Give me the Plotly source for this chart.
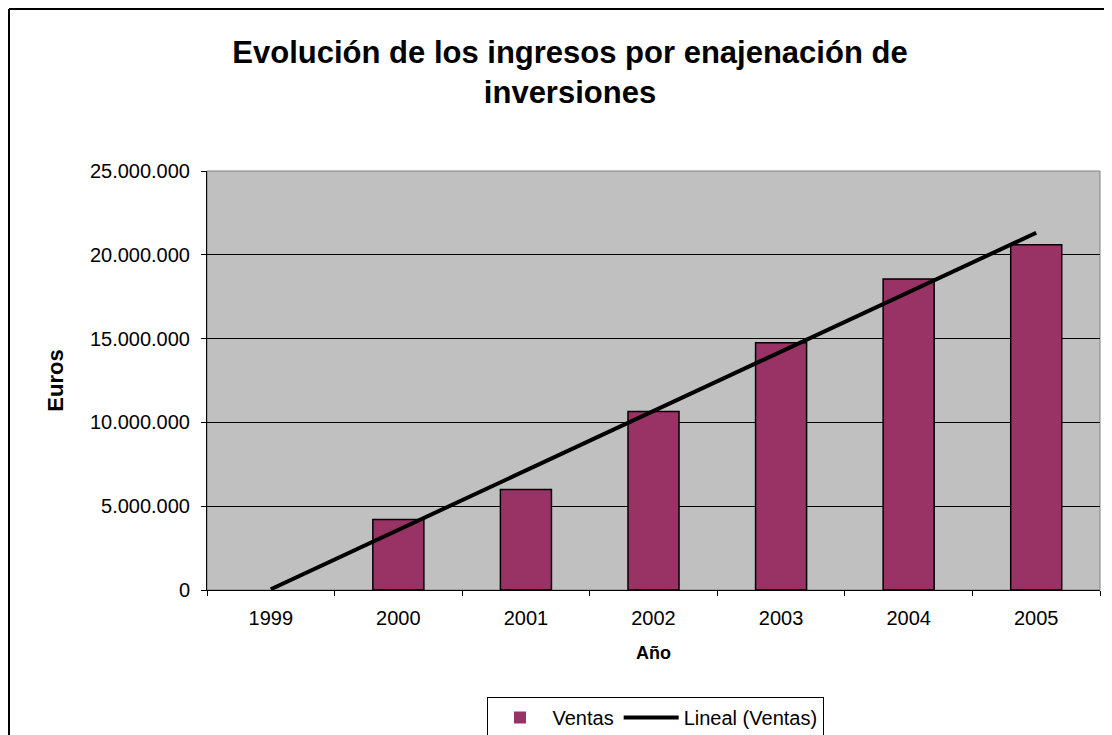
import numpy as np
import plotly.graph_objects as go

years = ["1999", "2000", "2001", "2002", "2003", "2004", "2005"]
ventas = [0, 4200000, 6000000, 10650000, 14750000, 18550000, 20600000]
y_ticks = [0, 5000000, 10000000, 15000000, 20000000, 25000000]
y_tick_labels = ["0", "5.000.000", "10.000.000", "15.000.000", "20.000.000", "25.000.000"]

# linear trendline (Excel "Lineal") computed from the data
xi = np.arange(len(years))
slope, intercept = np.polyfit(xi, ventas, 1)
trend = [slope * i + intercept for i in xi]

FONT = "Liberation Sans, Arial, sans-serif"

# page has an 8px body margin; work in figure coordinates
OFF = 8
W, H = 1112 - OFF, 735 - OFF
L = 207 - OFF
T = 171 - OFF
R = W - (1100 - OFF)
B = H - (590 - OFF)
pw = W - L - R
ph = H - T - B

fig = go.Figure()
fig.add_trace(go.Bar(
    x=years, y=ventas, name="Ventas",
    marker=dict(color="#993366",
                line=dict(color="black", width=[0 if v == 0 else 1.5 for v in ventas])),
))
fig.add_trace(go.Scatter(
    x=years, y=trend, name="Lineal (Ventas)", mode="lines",
    line=dict(color="black", width=4),
))

# outer frame: left and top edges, 1px inside the figure
fx = (1 - L) / pw
fy = (H - B - 1) / ph

fig.update_layout(
    width=W, height=H,
    margin=dict(l=L, r=R, t=T, b=B),
    paper_bgcolor="white",
    plot_bgcolor="#C0C0C0",
    bargap=0.6,
    font=dict(family=FONT, color="black", size=20),
    title=dict(
        text="<b>Evolución de los ingresos por enajenación de<br>inversiones</b>",
        xref="container", x=(570 - OFF) / W, xanchor="center",
        yref="container", y=1 - (63 - OFF) / H, yanchor="middle",
        font=dict(size=31, family=FONT, color="black"),
    ),
    xaxis=dict(
        type="category",
        showline=True, linecolor="black", linewidth=1,
        ticks="outside", tickson="boundaries", ticklen=5, tickcolor="black",
        showgrid=False,
        tickfont=dict(size=20),
        ticklabelstandoff=10,
        title=dict(text="<b>Año</b>", font=dict(size=18), standoff=18),
    ),
    yaxis=dict(
        range=[0, 25000000],
        tickvals=y_ticks, ticktext=y_tick_labels,
        showline=True, linecolor="black", linewidth=1,
        ticks="outside", ticklen=5, tickcolor="black",
        showgrid=True, gridcolor="black", gridwidth=1,
        zeroline=False,
        tickfont=dict(size=20),
        ticklabelstandoff=7,
        title=dict(text="<b>Euros</b>", font=dict(size=22), standoff=20),
    ),
    legend=dict(
        orientation="h",
        xref="container", x=(655 - OFF) / W, xanchor="center",
        yref="container", y=1 - (697 - OFF) / H, yanchor="top",
        bordercolor="black", borderwidth=1, bgcolor="white",
        font=dict(size=20), tracegroupgap=0, itemwidth=55,
    ),
    showlegend=True,
    shapes=[
        dict(type="rect", xref="paper", yref="paper", x0=0, x1=1, y0=0, y1=1,
             line=dict(color="#808080", width=1), layer="below"),
        dict(type="line", xref="paper", yref="paper",
             x0=fx, x1=fx, y0=-(B + 20) / ph, y1=fy,
             line=dict(color="black", width=2)),
        dict(type="line", xref="paper", yref="paper",
             x0=fx, x1=(W + 20 - L) / pw, y0=fy, y1=fy,
             line=dict(color="black", width=2)),
    ],
)

fig.write_html("out.html")
